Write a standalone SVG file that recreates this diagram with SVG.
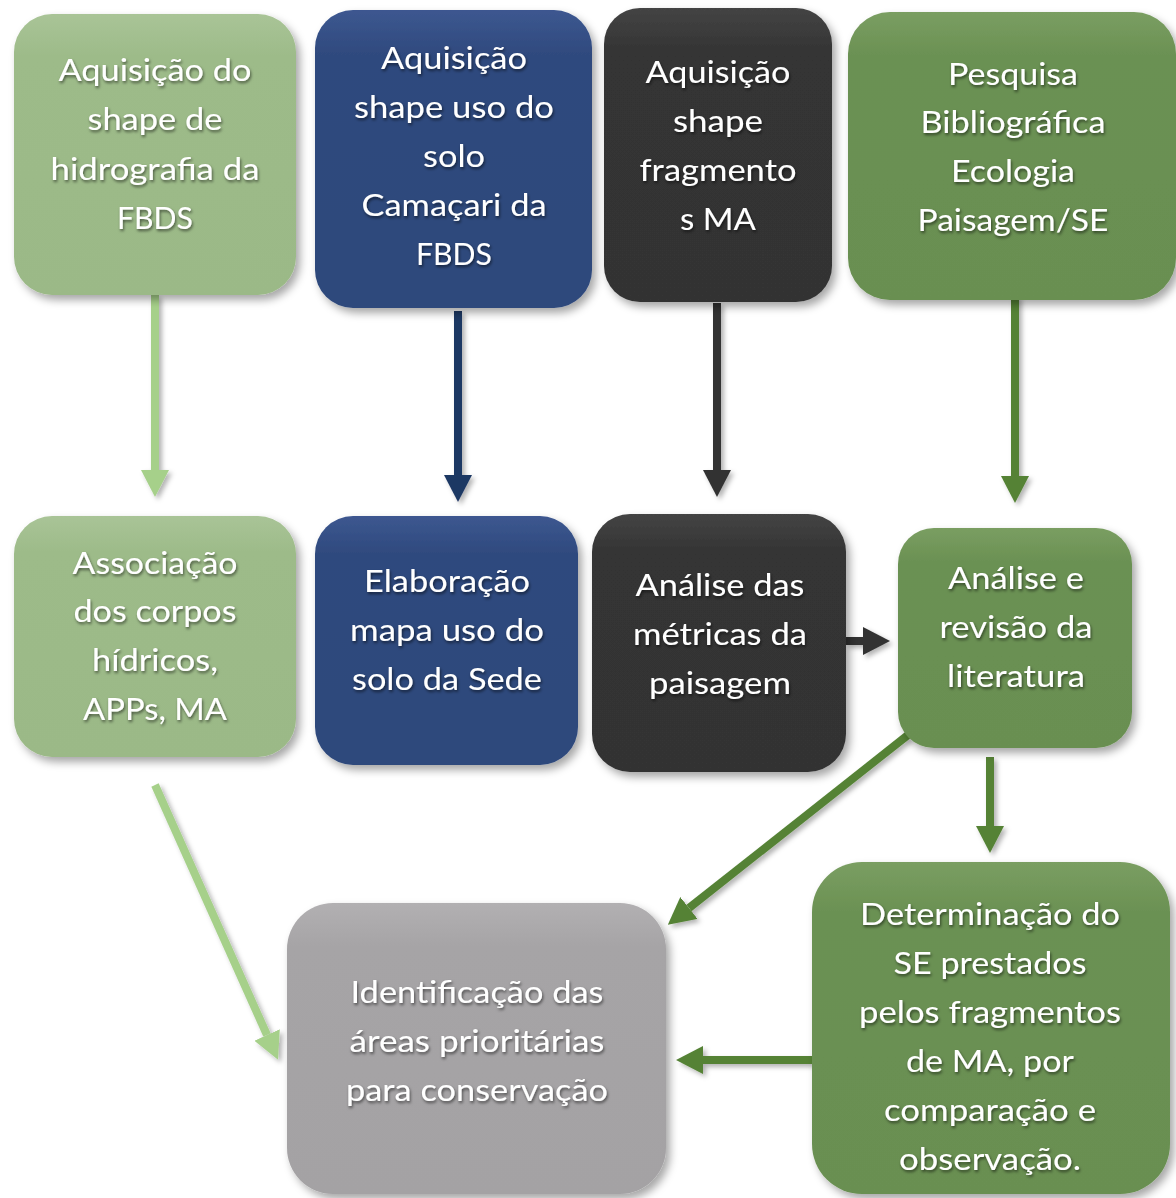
<svg xmlns="http://www.w3.org/2000/svg" width="1176" height="1198" viewBox="0 0 1176 1198">
<defs>
<style>
.t{font-family:Lato,"Open Sans","Liberation Sans",sans-serif;font-size:30px;fill:#ffffff;text-anchor:middle;filter:url(#ts)}
.box{filter:url(#bs)}
.c{fill:none;stroke-width:8}
</style>
<filter id="bs" x="-20%" y="-20%" width="140%" height="140%"><feDropShadow dx="4" dy="5" stdDeviation="4" flood-color="#000" flood-opacity="0.35"/></filter>
<filter id="ts" x="-10%" y="-30%" width="120%" height="160%"><feDropShadow dx="1" dy="2" stdDeviation="1.5" flood-color="#000" flood-opacity="0.55"/></filter>
<filter id="as" x="-50%" y="-20%" width="200%" height="140%"><feDropShadow dx="3" dy="3" stdDeviation="2.5" flood-color="#000" flood-opacity="0.3"/></filter>
<linearGradient id="gl" x1="0" y1="0" x2="0" y2="1"><stop offset="0" stop-color="#a9c497"/><stop offset="0.15" stop-color="#9dbb89"/><stop offset="1" stop-color="#9bb987"/></linearGradient>
<linearGradient id="gb" x1="0" y1="0" x2="0" y2="1"><stop offset="0" stop-color="#3d5790"/><stop offset="0.15" stop-color="#2f4a7e"/><stop offset="1" stop-color="#2e487b"/></linearGradient>
<linearGradient id="gd" x1="0" y1="0" x2="0" y2="1"><stop offset="0" stop-color="#444444"/><stop offset="0.15" stop-color="#343434"/><stop offset="1" stop-color="#333333"/></linearGradient>
<linearGradient id="gg" x1="0" y1="0" x2="0" y2="1"><stop offset="0" stop-color="#7a9e62"/><stop offset="0.15" stop-color="#6b9153"/><stop offset="1" stop-color="#698f51"/></linearGradient>
<linearGradient id="gy" x1="0" y1="0" x2="0" y2="1"><stop offset="0" stop-color="#b2b0b2"/><stop offset="0.15" stop-color="#a6a4a6"/><stop offset="1" stop-color="#a4a2a4"/></linearGradient>
<marker id="mL" viewBox="0 0 27 28" markerUnits="userSpaceOnUse" markerWidth="27" markerHeight="28" refX="0" refY="14" orient="auto"><path d="M0,0 L27,14 L0,28 z" fill="#a6d08a"/></marker>
<marker id="mB" viewBox="0 0 27 28" markerUnits="userSpaceOnUse" markerWidth="27" markerHeight="28" refX="0" refY="14" orient="auto"><path d="M0,0 L27,14 L0,28 z" fill="#1f3864"/></marker>
<marker id="mD" viewBox="0 0 27 28" markerUnits="userSpaceOnUse" markerWidth="27" markerHeight="28" refX="0" refY="14" orient="auto"><path d="M0,0 L27,14 L0,28 z" fill="#333333"/></marker>
<marker id="mG" viewBox="0 0 27 28" markerUnits="userSpaceOnUse" markerWidth="27" markerHeight="28" refX="0" refY="14" orient="auto"><path d="M0,0 L27,14 L0,28 z" fill="#548235"/></marker>
</defs>
<rect width="1176" height="1198" fill="#ffffff"/>

<g id="connectors" filter="url(#as)">
<line class="c" x1="155" y1="295" x2="155" y2="470" stroke="#a6d08a" marker-end="url(#mL)"/>
<line class="c" x1="458" y1="311" x2="458" y2="475" stroke="#1f3864" marker-end="url(#mB)"/>
<line class="c" x1="717" y1="303" x2="717" y2="470" stroke="#333333" marker-end="url(#mD)"/>
<line class="c" x1="1015" y1="296" x2="1015" y2="476" stroke="#548235" marker-end="url(#mG)"/>
<line class="c" x1="846" y1="641" x2="863" y2="641" stroke="#333333" marker-end="url(#mD)"/>
<line class="c" x1="908" y1="735" x2="689" y2="908" stroke="#548235" marker-end="url(#mG)"/>
<line class="c" x1="990" y1="757" x2="990" y2="826" stroke="#548235" marker-end="url(#mG)"/>
<line class="c" x1="812" y1="1060" x2="703" y2="1060" stroke="#548235" marker-end="url(#mG)"/>
<line class="c" x1="155" y1="785" x2="267" y2="1035" stroke="#a6d08a" marker-end="url(#mL)"/>
</g>

<g id="n1"><rect class="box" x="14" y="14" width="282" height="281" rx="38" fill="url(#gl)"/>
<text class="t"><tspan x="155" y="81" textLength="193" lengthAdjust="spacingAndGlyphs">Aquisição do</tspan><tspan x="155" y="130" textLength="135" lengthAdjust="spacingAndGlyphs">shape de</tspan><tspan x="155" y="180" textLength="209" lengthAdjust="spacingAndGlyphs">hidrografia da</tspan><tspan x="155" y="229" textLength="76" lengthAdjust="spacingAndGlyphs">FBDS</tspan></text></g>

<g id="n2"><rect class="box" x="315" y="10" width="277" height="298" rx="38" fill="url(#gb)"/>
<text class="t"><tspan x="454" y="69" textLength="146" lengthAdjust="spacingAndGlyphs">Aquisição</tspan><tspan x="454" y="118" textLength="200" lengthAdjust="spacingAndGlyphs">shape uso do</tspan><tspan x="454" y="167" textLength="62" lengthAdjust="spacingAndGlyphs">solo</tspan><tspan x="454" y="216" textLength="185" lengthAdjust="spacingAndGlyphs">Camaçari da</tspan><tspan x="454" y="265" textLength="76" lengthAdjust="spacingAndGlyphs">FBDS</tspan></text></g>

<g id="n3"><rect class="box" x="604" y="8" width="228" height="294" rx="36" fill="url(#gd)"/>
<text class="t"><tspan x="718" y="83" textLength="145" lengthAdjust="spacingAndGlyphs">Aquisição</tspan><tspan x="718" y="132" textLength="90" lengthAdjust="spacingAndGlyphs">shape</tspan><tspan x="718" y="181" textLength="157" lengthAdjust="spacingAndGlyphs">fragmento</tspan><tspan x="718" y="230" textLength="76" lengthAdjust="spacingAndGlyphs">s MA</tspan></text></g>

<g id="n4"><rect class="box" x="848" y="12" width="328" height="288" rx="42" fill="url(#gg)"/>
<text class="t"><tspan x="1013" y="85" textLength="130" lengthAdjust="spacingAndGlyphs">Pesquisa</tspan><tspan x="1013" y="133" textLength="185" lengthAdjust="spacingAndGlyphs">Bibliográfica</tspan><tspan x="1013" y="182" textLength="124" lengthAdjust="spacingAndGlyphs">Ecologia</tspan><tspan x="1013" y="231" textLength="191" lengthAdjust="spacingAndGlyphs">Paisagem/SE</tspan></text></g>

<g id="n5"><rect class="box" x="14" y="516" width="282" height="241" rx="38" fill="url(#gl)"/>
<text class="t"><tspan x="155" y="574" textLength="165" lengthAdjust="spacingAndGlyphs">Associação</tspan><tspan x="155" y="622" textLength="163" lengthAdjust="spacingAndGlyphs">dos corpos</tspan><tspan x="155" y="671" textLength="126" lengthAdjust="spacingAndGlyphs">hídricos,</tspan><tspan x="155" y="720" textLength="144" lengthAdjust="spacingAndGlyphs">APPs, MA</tspan></text></g>

<g id="n6"><rect class="box" x="315" y="516" width="263" height="249" rx="38" fill="url(#gb)"/>
<text class="t"><tspan x="447" y="592" textLength="166" lengthAdjust="spacingAndGlyphs">Elaboração</tspan><tspan x="447" y="641" textLength="194" lengthAdjust="spacingAndGlyphs">mapa uso do</tspan><tspan x="447" y="690" textLength="190" lengthAdjust="spacingAndGlyphs">solo da Sede</tspan></text></g>

<g id="n7"><rect class="box" x="592" y="514" width="254" height="258" rx="38" fill="url(#gd)"/>
<text class="t"><tspan x="720" y="596" textLength="169" lengthAdjust="spacingAndGlyphs">Análise das</tspan><tspan x="720" y="645" textLength="174" lengthAdjust="spacingAndGlyphs">métricas da</tspan><tspan x="720" y="694" textLength="142" lengthAdjust="spacingAndGlyphs">paisagem</tspan></text></g>

<g id="n8"><rect class="box" x="898" y="528" width="234" height="220" rx="36" fill="url(#gg)"/>
<text class="t"><tspan x="1016" y="589" textLength="136" lengthAdjust="spacingAndGlyphs">Análise e</tspan><tspan x="1016" y="638" textLength="153" lengthAdjust="spacingAndGlyphs">revisão da</tspan><tspan x="1016" y="687" textLength="138" lengthAdjust="spacingAndGlyphs">literatura</tspan></text></g>

<g id="n9"><rect class="box" x="287" y="903" width="379" height="291" rx="46" fill="url(#gy)"/>
<text class="t"><tspan x="477" y="1003" textLength="253" lengthAdjust="spacingAndGlyphs">Identificação das</tspan><tspan x="477" y="1052" textLength="255" lengthAdjust="spacingAndGlyphs">áreas prioritárias</tspan><tspan x="477" y="1101" textLength="262" lengthAdjust="spacingAndGlyphs">para conservação</tspan></text></g>

<g id="n10"><rect class="box" x="812" y="862" width="358" height="332" rx="50" fill="url(#gg)"/>
<text class="t"><tspan x="990" y="925" textLength="260" lengthAdjust="spacingAndGlyphs">Determinação do</tspan><tspan x="990" y="974" textLength="193" lengthAdjust="spacingAndGlyphs">SE prestados</tspan><tspan x="990" y="1023" textLength="262" lengthAdjust="spacingAndGlyphs">pelos fragmentos</tspan><tspan x="990" y="1072" textLength="168" lengthAdjust="spacingAndGlyphs">de MA, por</tspan><tspan x="990" y="1121" textLength="212" lengthAdjust="spacingAndGlyphs">comparação e</tspan><tspan x="990" y="1170" textLength="182" lengthAdjust="spacingAndGlyphs">observação.</tspan></text></g>
</svg>
